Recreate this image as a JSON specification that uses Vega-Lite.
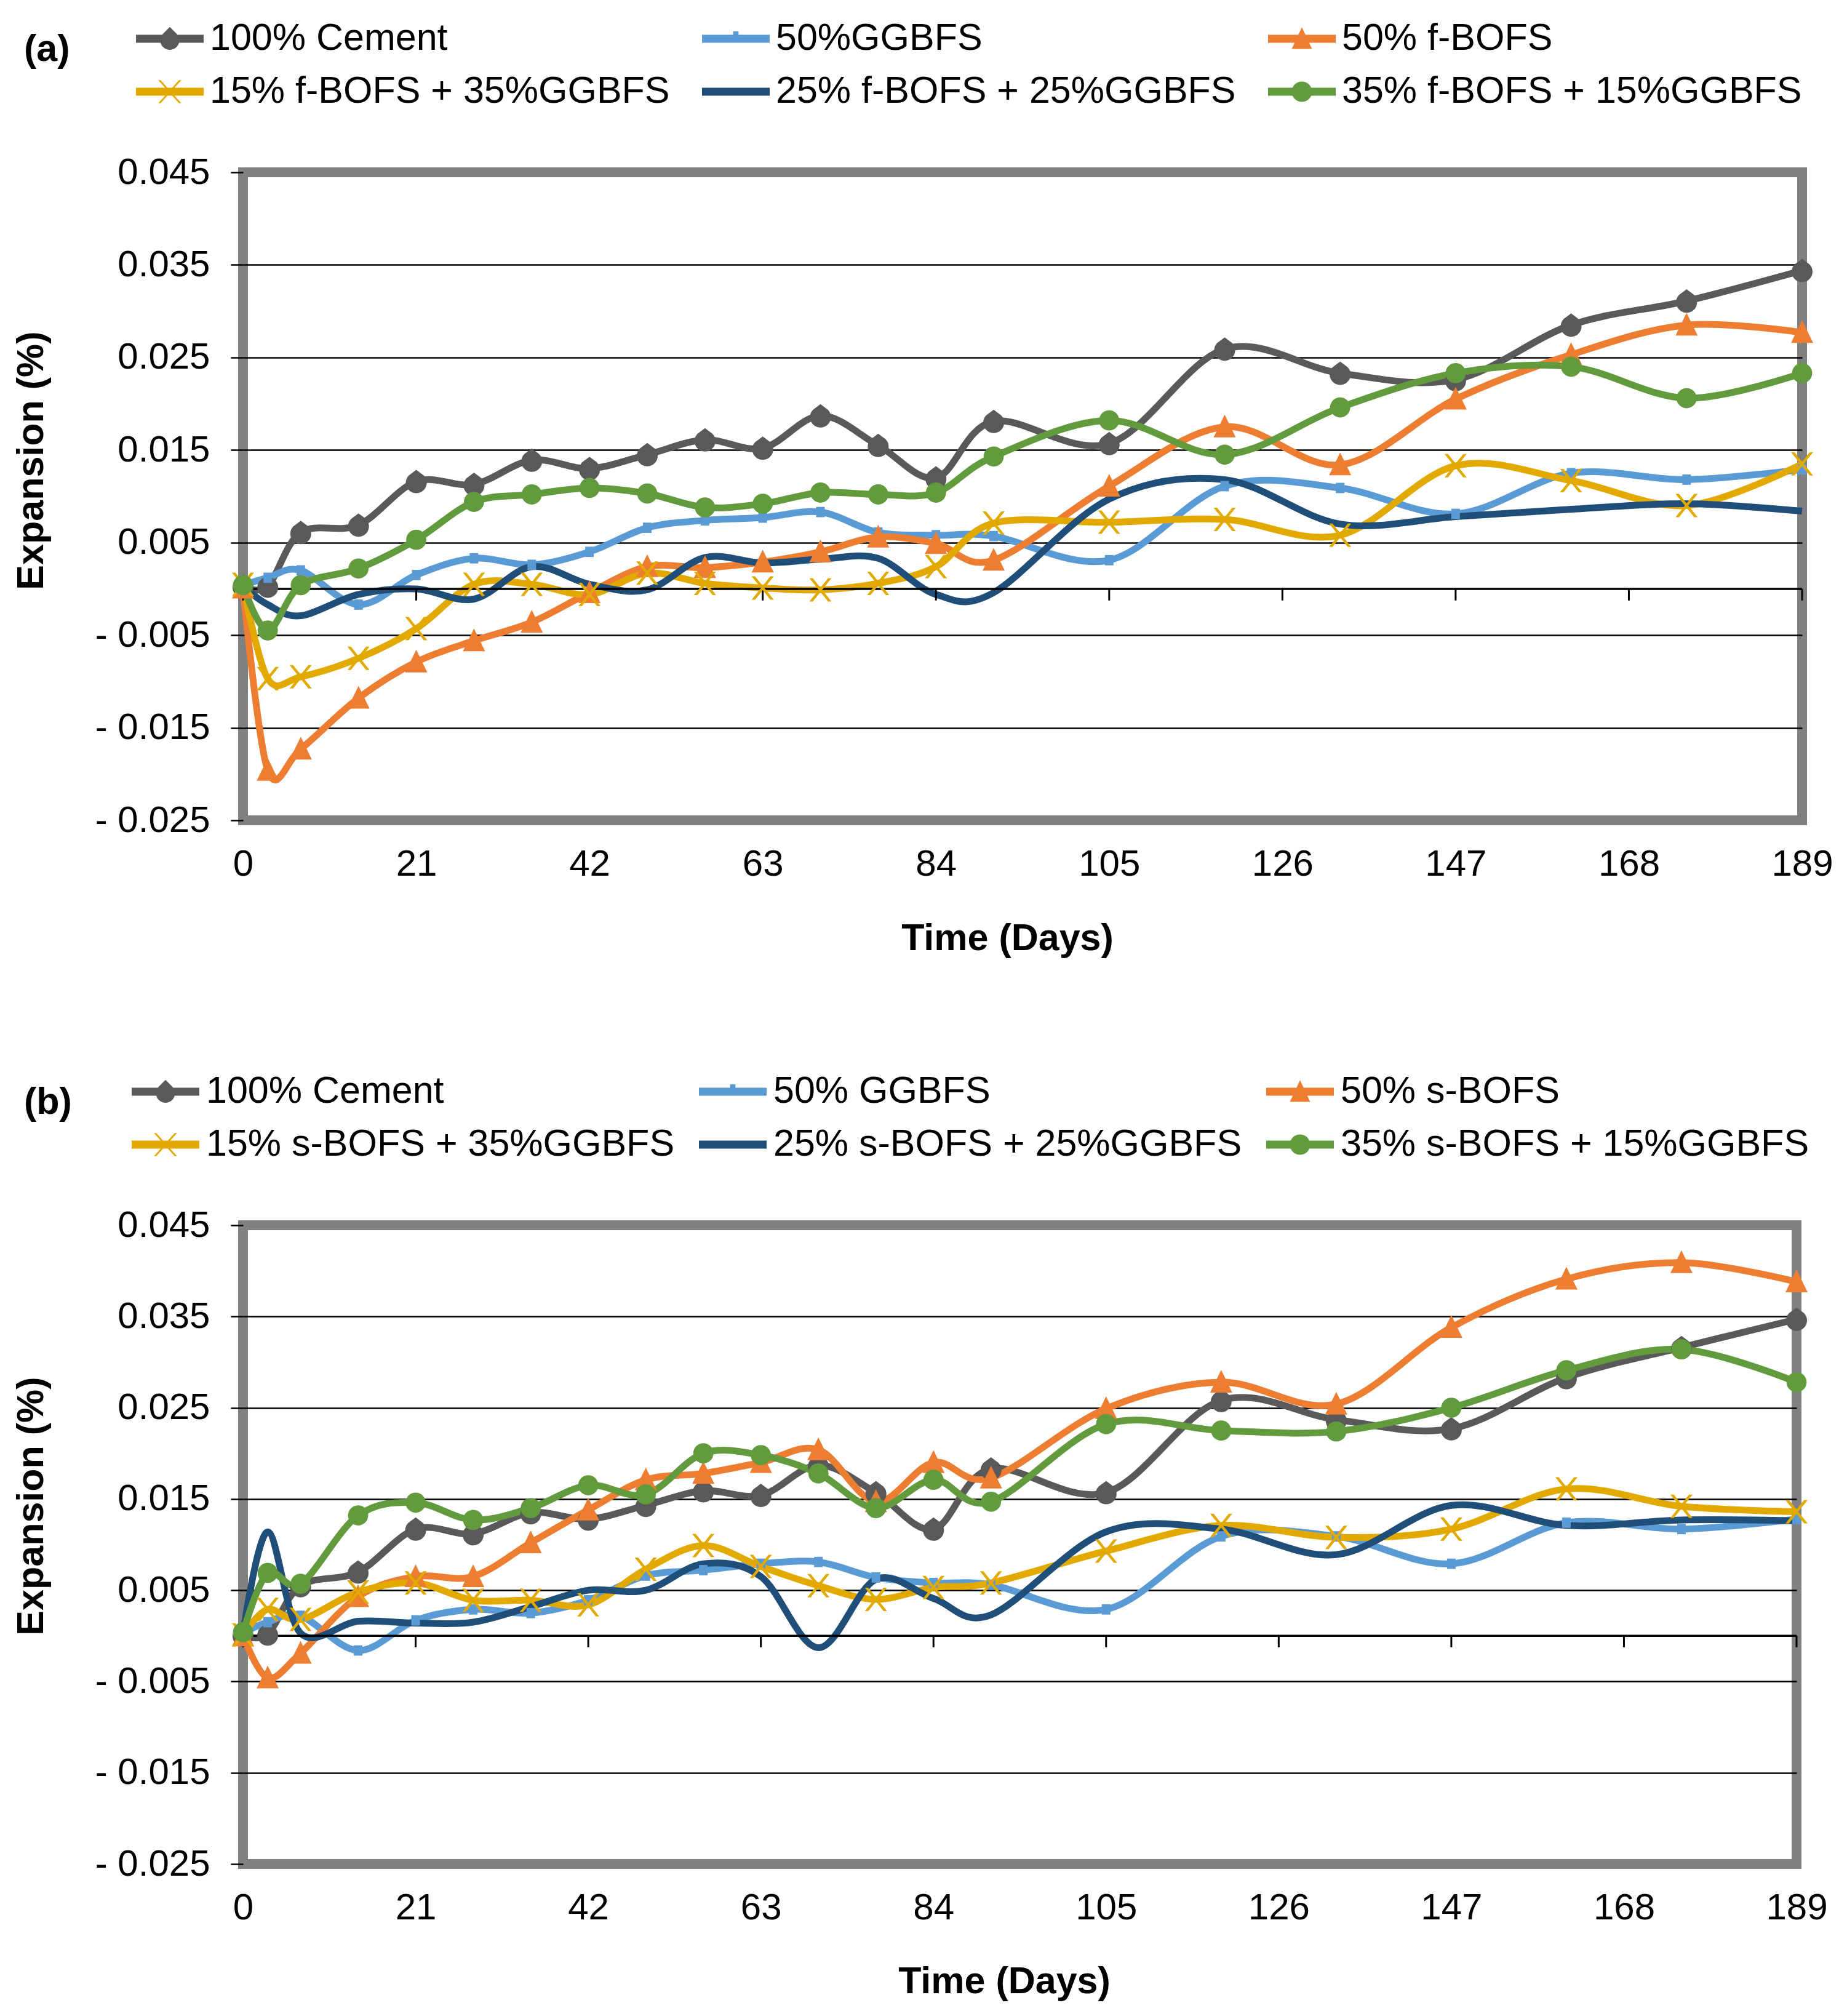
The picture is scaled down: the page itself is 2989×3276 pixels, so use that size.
{
  "$schema": "https://vega.github.io/schema/vega-lite/v6.json",
  "background": "white",
  "padding": {"left": 12, "top": 0, "right": 0, "bottom": 0},
  "config": {
    "font": "Liberation Sans",
    "view": {"stroke": "#808080", "strokeWidth": 16},
    "axis": {"labelFont": "Liberation Sans", "labelFontSize": 60, "labelColor": "black", "labelLimit": 400, "titleFont": "Liberation Sans", "titleFontSize": 61, "titleFontWeight": "bold", "titleColor": "black", "tickColor": "black"},
    "legend": {"labelFont": "Liberation Sans", "titleFont": "Liberation Sans"}
  },
  "datasets": {
    "a": [
      {"d":0,"s":"100% Cement","v":0.0003},{"d":3,"s":"100% Cement","v":0.0003},{"d":7,"s":"100% Cement","v":0.0061},{"d":14,"s":"100% Cement","v":0.0069},{"d":21,"s":"100% Cement","v":0.0116},{"d":28,"s":"100% Cement","v":0.0113},{"d":35,"s":"100% Cement","v":0.0139},{"d":42,"s":"100% Cement","v":0.0130},{"d":49,"s":"100% Cement","v":0.0145},{"d":56,"s":"100% Cement","v":0.0161},{"d":63,"s":"100% Cement","v":0.0152},{"d":70,"s":"100% Cement","v":0.0187},{"d":77,"s":"100% Cement","v":0.0155},{"d":84,"s":"100% Cement","v":0.0120},{"d":91,"s":"100% Cement","v":0.0181},{"d":105,"s":"100% Cement","v":0.0157},{"d":119,"s":"100% Cement","v":0.0259},{"d":133,"s":"100% Cement","v":0.0233},{"d":147,"s":"100% Cement","v":0.0226},{"d":161,"s":"100% Cement","v":0.0285},{"d":175,"s":"100% Cement","v":0.0311},{"d":189,"s":"100% Cement","v":0.0344},
      {"d":0,"s":"50%GGBFS","v":0.0004},{"d":3,"s":"50%GGBFS","v":0.0012},{"d":7,"s":"50%GGBFS","v":0.0020},{"d":14,"s":"50%GGBFS","v":-0.0017},{"d":21,"s":"50%GGBFS","v":0.0015},{"d":28,"s":"50%GGBFS","v":0.0033},{"d":35,"s":"50%GGBFS","v":0.0026},{"d":42,"s":"50%GGBFS","v":0.0040},{"d":49,"s":"50%GGBFS","v":0.0066},{"d":56,"s":"50%GGBFS","v":0.0074},{"d":63,"s":"50%GGBFS","v":0.0077},{"d":70,"s":"50%GGBFS","v":0.0083},{"d":77,"s":"50%GGBFS","v":0.0061},{"d":84,"s":"50%GGBFS","v":0.0058},{"d":91,"s":"50%GGBFS","v":0.0057},{"d":105,"s":"50%GGBFS","v":0.0031},{"d":119,"s":"50%GGBFS","v":0.0111},{"d":133,"s":"50%GGBFS","v":0.0109},{"d":147,"s":"50%GGBFS","v":0.0081},{"d":161,"s":"50%GGBFS","v":0.0125},{"d":175,"s":"50%GGBFS","v":0.0118},{"d":189,"s":"50%GGBFS","v":0.0129},
      {"d":0,"s":"50% f-BOFS","v":0.0001},{"d":3,"s":"50% f-BOFS","v":-0.0196},{"d":7,"s":"50% f-BOFS","v":-0.0173},{"d":14,"s":"50% f-BOFS","v":-0.0118},{"d":21,"s":"50% f-BOFS","v":-0.0079},{"d":28,"s":"50% f-BOFS","v":-0.0056},{"d":35,"s":"50% f-BOFS","v":-0.0036},{"d":42,"s":"50% f-BOFS","v":-0.0004},{"d":49,"s":"50% f-BOFS","v":0.0024},{"d":56,"s":"50% f-BOFS","v":0.0023},{"d":63,"s":"50% f-BOFS","v":0.0029},{"d":70,"s":"50% f-BOFS","v":0.0040},{"d":77,"s":"50% f-BOFS","v":0.0056},{"d":84,"s":"50% f-BOFS","v":0.0049},{"d":91,"s":"50% f-BOFS","v":0.0031},{"d":105,"s":"50% f-BOFS","v":0.0111},{"d":119,"s":"50% f-BOFS","v":0.0175},{"d":133,"s":"50% f-BOFS","v":0.0134},{"d":147,"s":"50% f-BOFS","v":0.0205},{"d":161,"s":"50% f-BOFS","v":0.0253},{"d":175,"s":"50% f-BOFS","v":0.0285},{"d":189,"s":"50% f-BOFS","v":0.0277},
      {"d":0,"s":"15% f-BOFS + 35%GGBFS","v":0.0005},{"d":3,"s":"15% f-BOFS + 35%GGBFS","v":-0.0097},{"d":7,"s":"15% f-BOFS + 35%GGBFS","v":-0.0095},{"d":14,"s":"15% f-BOFS + 35%GGBFS","v":-0.0075},{"d":21,"s":"15% f-BOFS + 35%GGBFS","v":-0.0043},{"d":28,"s":"15% f-BOFS + 35%GGBFS","v":0.0005},{"d":35,"s":"15% f-BOFS + 35%GGBFS","v":0.0005},{"d":42,"s":"15% f-BOFS + 35%GGBFS","v":-0.0006},{"d":49,"s":"15% f-BOFS + 35%GGBFS","v":0.0017},{"d":56,"s":"15% f-BOFS + 35%GGBFS","v":0.0006},{"d":63,"s":"15% f-BOFS + 35%GGBFS","v":0.0001},{"d":70,"s":"15% f-BOFS + 35%GGBFS","v":-0.0001},{"d":77,"s":"15% f-BOFS + 35%GGBFS","v":0.0006},{"d":84,"s":"15% f-BOFS + 35%GGBFS","v":0.0024},{"d":91,"s":"15% f-BOFS + 35%GGBFS","v":0.0071},{"d":105,"s":"15% f-BOFS + 35%GGBFS","v":0.0072},{"d":119,"s":"15% f-BOFS + 35%GGBFS","v":0.0075},{"d":133,"s":"15% f-BOFS + 35%GGBFS","v":0.0058},{"d":147,"s":"15% f-BOFS + 35%GGBFS","v":0.0133},{"d":161,"s":"15% f-BOFS + 35%GGBFS","v":0.0117},{"d":175,"s":"15% f-BOFS + 35%GGBFS","v":0.0090},{"d":189,"s":"15% f-BOFS + 35%GGBFS","v":0.0135},
      {"d":0,"s":"25% f-BOFS + 25%GGBFS","v":0.0003},{"d":3,"s":"25% f-BOFS + 25%GGBFS","v":-0.0017},{"d":7,"s":"25% f-BOFS + 25%GGBFS","v":-0.0029},{"d":14,"s":"25% f-BOFS + 25%GGBFS","v":-0.0006},{"d":21,"s":"25% f-BOFS + 25%GGBFS","v":0.0000},{"d":28,"s":"25% f-BOFS + 25%GGBFS","v":-0.0011},{"d":35,"s":"25% f-BOFS + 25%GGBFS","v":0.0024},{"d":42,"s":"25% f-BOFS + 25%GGBFS","v":0.0005},{"d":49,"s":"25% f-BOFS + 25%GGBFS","v":-0.0001},{"d":56,"s":"25% f-BOFS + 25%GGBFS","v":0.0034},{"d":63,"s":"25% f-BOFS + 25%GGBFS","v":0.0028},{"d":70,"s":"25% f-BOFS + 25%GGBFS","v":0.0032},{"d":77,"s":"25% f-BOFS + 25%GGBFS","v":0.0033},{"d":84,"s":"25% f-BOFS + 25%GGBFS","v":-0.0006},{"d":91,"s":"25% f-BOFS + 25%GGBFS","v":-0.0004},{"d":105,"s":"25% f-BOFS + 25%GGBFS","v":0.0097},{"d":119,"s":"25% f-BOFS + 25%GGBFS","v":0.0118},{"d":133,"s":"25% f-BOFS + 25%GGBFS","v":0.0070},{"d":147,"s":"25% f-BOFS + 25%GGBFS","v":0.0078},{"d":161,"s":"25% f-BOFS + 25%GGBFS","v":0.0086},{"d":175,"s":"25% f-BOFS + 25%GGBFS","v":0.0092},{"d":189,"s":"25% f-BOFS + 25%GGBFS","v":0.0084},
      {"d":0,"s":"35% f-BOFS + 15%GGBFS","v":0.0004},{"d":3,"s":"35% f-BOFS + 15%GGBFS","v":-0.0045},{"d":7,"s":"35% f-BOFS + 15%GGBFS","v":0.0004},{"d":14,"s":"35% f-BOFS + 15%GGBFS","v":0.0022},{"d":21,"s":"35% f-BOFS + 15%GGBFS","v":0.0053},{"d":28,"s":"35% f-BOFS + 15%GGBFS","v":0.0094},{"d":35,"s":"35% f-BOFS + 15%GGBFS","v":0.0102},{"d":42,"s":"35% f-BOFS + 15%GGBFS","v":0.0109},{"d":49,"s":"35% f-BOFS + 15%GGBFS","v":0.0103},{"d":56,"s":"35% f-BOFS + 15%GGBFS","v":0.0088},{"d":63,"s":"35% f-BOFS + 15%GGBFS","v":0.0092},{"d":70,"s":"35% f-BOFS + 15%GGBFS","v":0.0104},{"d":77,"s":"35% f-BOFS + 15%GGBFS","v":0.0102},{"d":84,"s":"35% f-BOFS + 15%GGBFS","v":0.0104},{"d":91,"s":"35% f-BOFS + 15%GGBFS","v":0.0143},{"d":105,"s":"35% f-BOFS + 15%GGBFS","v":0.0182},{"d":119,"s":"35% f-BOFS + 15%GGBFS","v":0.0145},{"d":133,"s":"35% f-BOFS + 15%GGBFS","v":0.0196},{"d":147,"s":"35% f-BOFS + 15%GGBFS","v":0.0233},{"d":161,"s":"35% f-BOFS + 15%GGBFS","v":0.0240},{"d":175,"s":"35% f-BOFS + 15%GGBFS","v":0.0206},{"d":189,"s":"35% f-BOFS + 15%GGBFS","v":0.0233}
    ],
    "b": [
      {"d":0,"s":"100% Cement","v":0.0001},{"d":3,"s":"100% Cement","v":0.0002},{"d":7,"s":"100% Cement","v":0.0055},{"d":14,"s":"100% Cement","v":0.0070},{"d":21,"s":"100% Cement","v":0.0117},{"d":28,"s":"100% Cement","v":0.0112},{"d":35,"s":"100% Cement","v":0.0135},{"d":42,"s":"100% Cement","v":0.0128},{"d":49,"s":"100% Cement","v":0.0143},{"d":56,"s":"100% Cement","v":0.0159},{"d":63,"s":"100% Cement","v":0.0154},{"d":70,"s":"100% Cement","v":0.0187},{"d":77,"s":"100% Cement","v":0.0157},{"d":84,"s":"100% Cement","v":0.0117},{"d":91,"s":"100% Cement","v":0.0183},{"d":105,"s":"100% Cement","v":0.0157},{"d":119,"s":"100% Cement","v":0.0258},{"d":133,"s":"100% Cement","v":0.0237},{"d":147,"s":"100% Cement","v":0.0227},{"d":161,"s":"100% Cement","v":0.0283},{"d":175,"s":"100% Cement","v":0.0316},{"d":189,"s":"100% Cement","v":0.0347},
      {"d":0,"s":"50% GGBFS","v":0.0003},{"d":3,"s":"50% GGBFS","v":0.0015},{"d":7,"s":"50% GGBFS","v":0.0022},{"d":14,"s":"50% GGBFS","v":-0.0016},{"d":21,"s":"50% GGBFS","v":0.0017},{"d":28,"s":"50% GGBFS","v":0.0029},{"d":35,"s":"50% GGBFS","v":0.0025},{"d":42,"s":"50% GGBFS","v":0.0039},{"d":49,"s":"50% GGBFS","v":0.0066},{"d":56,"s":"50% GGBFS","v":0.0072},{"d":63,"s":"50% GGBFS","v":0.0079},{"d":70,"s":"50% GGBFS","v":0.0081},{"d":77,"s":"50% GGBFS","v":0.0064},{"d":84,"s":"50% GGBFS","v":0.0058},{"d":91,"s":"50% GGBFS","v":0.0056},{"d":105,"s":"50% GGBFS","v":0.0029},{"d":119,"s":"50% GGBFS","v":0.0109},{"d":133,"s":"50% GGBFS","v":0.0109},{"d":147,"s":"50% GGBFS","v":0.0079},{"d":161,"s":"50% GGBFS","v":0.0124},{"d":175,"s":"50% GGBFS","v":0.0117},{"d":189,"s":"50% GGBFS","v":0.0128},
      {"d":0,"s":"50% s-BOFS","v":0.0000},{"d":3,"s":"50% s-BOFS","v":-0.0046},{"d":7,"s":"50% s-BOFS","v":-0.0019},{"d":14,"s":"50% s-BOFS","v":0.0043},{"d":21,"s":"50% s-BOFS","v":0.0065},{"d":28,"s":"50% s-BOFS","v":0.0065},{"d":35,"s":"50% s-BOFS","v":0.0102},{"d":42,"s":"50% s-BOFS","v":0.0138},{"d":49,"s":"50% s-BOFS","v":0.0171},{"d":56,"s":"50% s-BOFS","v":0.0178},{"d":63,"s":"50% s-BOFS","v":0.0190},{"d":70,"s":"50% s-BOFS","v":0.0204},{"d":77,"s":"50% s-BOFS","v":0.0147},{"d":84,"s":"50% s-BOFS","v":0.0190},{"d":91,"s":"50% s-BOFS","v":0.0173},{"d":105,"s":"50% s-BOFS","v":0.0249},{"d":119,"s":"50% s-BOFS","v":0.0278},{"d":133,"s":"50% s-BOFS","v":0.0254},{"d":147,"s":"50% s-BOFS","v":0.0338},{"d":161,"s":"50% s-BOFS","v":0.0391},{"d":175,"s":"50% s-BOFS","v":0.0409},{"d":189,"s":"50% s-BOFS","v":0.0388},
      {"d":0,"s":"15% s-BOFS + 35%GGBFS","v":0.0001},{"d":3,"s":"15% s-BOFS + 35%GGBFS","v":0.0029},{"d":7,"s":"15% s-BOFS + 35%GGBFS","v":0.0018},{"d":14,"s":"15% s-BOFS + 35%GGBFS","v":0.0048},{"d":21,"s":"15% s-BOFS + 35%GGBFS","v":0.0058},{"d":28,"s":"15% s-BOFS + 35%GGBFS","v":0.0039},{"d":35,"s":"15% s-BOFS + 35%GGBFS","v":0.0039},{"d":42,"s":"15% s-BOFS + 35%GGBFS","v":0.0034},{"d":49,"s":"15% s-BOFS + 35%GGBFS","v":0.0073},{"d":56,"s":"15% s-BOFS + 35%GGBFS","v":0.0099},{"d":63,"s":"15% s-BOFS + 35%GGBFS","v":0.0076},{"d":70,"s":"15% s-BOFS + 35%GGBFS","v":0.0055},{"d":77,"s":"15% s-BOFS + 35%GGBFS","v":0.0040},{"d":84,"s":"15% s-BOFS + 35%GGBFS","v":0.0053},{"d":91,"s":"15% s-BOFS + 35%GGBFS","v":0.0058},{"d":105,"s":"15% s-BOFS + 35%GGBFS","v":0.0093},{"d":119,"s":"15% s-BOFS + 35%GGBFS","v":0.0121},{"d":133,"s":"15% s-BOFS + 35%GGBFS","v":0.0108},{"d":147,"s":"15% s-BOFS + 35%GGBFS","v":0.0117},{"d":161,"s":"15% s-BOFS + 35%GGBFS","v":0.0161},{"d":175,"s":"15% s-BOFS + 35%GGBFS","v":0.0142},{"d":189,"s":"15% s-BOFS + 35%GGBFS","v":0.0136},
      {"d":0,"s":"25% s-BOFS + 25%GGBFS","v":0.0003},{"d":3,"s":"25% s-BOFS + 25%GGBFS","v":0.0114},{"d":7,"s":"25% s-BOFS + 25%GGBFS","v":0.0003},{"d":14,"s":"25% s-BOFS + 25%GGBFS","v":0.0016},{"d":21,"s":"25% s-BOFS + 25%GGBFS","v":0.0014},{"d":28,"s":"25% s-BOFS + 25%GGBFS","v":0.0015},{"d":35,"s":"25% s-BOFS + 25%GGBFS","v":0.0032},{"d":42,"s":"25% s-BOFS + 25%GGBFS","v":0.0050},{"d":49,"s":"25% s-BOFS + 25%GGBFS","v":0.0050},{"d":56,"s":"25% s-BOFS + 25%GGBFS","v":0.0079},{"d":63,"s":"25% s-BOFS + 25%GGBFS","v":0.0065},{"d":70,"s":"25% s-BOFS + 25%GGBFS","v":-0.0013},{"d":77,"s":"25% s-BOFS + 25%GGBFS","v":0.0062},{"d":84,"s":"25% s-BOFS + 25%GGBFS","v":0.0041},{"d":91,"s":"25% s-BOFS + 25%GGBFS","v":0.0023},{"d":105,"s":"25% s-BOFS + 25%GGBFS","v":0.0114},{"d":119,"s":"25% s-BOFS + 25%GGBFS","v":0.0117},{"d":133,"s":"25% s-BOFS + 25%GGBFS","v":0.0089},{"d":147,"s":"25% s-BOFS + 25%GGBFS","v":0.0143},{"d":161,"s":"25% s-BOFS + 25%GGBFS","v":0.0121},{"d":175,"s":"25% s-BOFS + 25%GGBFS","v":0.0127},{"d":189,"s":"25% s-BOFS + 25%GGBFS","v":0.0126},
      {"d":0,"s":"35% s-BOFS + 15%GGBFS","v":0.0004},{"d":3,"s":"35% s-BOFS + 15%GGBFS","v":0.0069},{"d":7,"s":"35% s-BOFS + 15%GGBFS","v":0.0057},{"d":14,"s":"35% s-BOFS + 15%GGBFS","v":0.0132},{"d":21,"s":"35% s-BOFS + 15%GGBFS","v":0.0146},{"d":28,"s":"35% s-BOFS + 15%GGBFS","v":0.0127},{"d":35,"s":"35% s-BOFS + 15%GGBFS","v":0.0140},{"d":42,"s":"35% s-BOFS + 15%GGBFS","v":0.0165},{"d":49,"s":"35% s-BOFS + 15%GGBFS","v":0.0155},{"d":56,"s":"35% s-BOFS + 15%GGBFS","v":0.0200},{"d":63,"s":"35% s-BOFS + 15%GGBFS","v":0.0198},{"d":70,"s":"35% s-BOFS + 15%GGBFS","v":0.0178},{"d":77,"s":"35% s-BOFS + 15%GGBFS","v":0.0140},{"d":84,"s":"35% s-BOFS + 15%GGBFS","v":0.0171},{"d":91,"s":"35% s-BOFS + 15%GGBFS","v":0.0147},{"d":105,"s":"35% s-BOFS + 15%GGBFS","v":0.0232},{"d":119,"s":"35% s-BOFS + 15%GGBFS","v":0.0225},{"d":133,"s":"35% s-BOFS + 15%GGBFS","v":0.0224},{"d":147,"s":"35% s-BOFS + 15%GGBFS","v":0.0250},{"d":161,"s":"35% s-BOFS + 15%GGBFS","v":0.0291},{"d":175,"s":"35% s-BOFS + 15%GGBFS","v":0.0314},{"d":189,"s":"35% s-BOFS + 15%GGBFS","v":0.0278}
    ],
    "ticks": [{"t":0},{"t":21},{"t":42},{"t":63},{"t":84},{"t":105},{"t":126},{"t":147},{"t":168},{"t":189}]
  },
  "spacing": 148,
  "resolve": {"scale": {"color": "independent", "shape": "independent"}},
  "vconcat": [
    {
      "width": 2534,
      "height": 1053,
      "data": {"name": "a"},
      "resolve": {"scale": {"color": "independent", "shape": "independent"}, "legend": {"color": "independent", "shape": "independent"}},
      "layer": [
        {
          "mark": {"type": "line", "interpolate": "cardinal", "strokeWidth": 11, "strokeJoin": "round"},
          "encoding": {
            "x": {"field": "d", "type": "quantitative", "scale": {"domain": [0, 189], "nice": false, "zero": false},
              "axis": {"values": [0, 21, 42, 63, 84, 105, 126, 147, 168, 189], "domain": false, "ticks": false, "grid": false, "labelPadding": 42, "labelFlush": false, "labelOverlap": false, "title": "Time (Days)", "titlePadding": 61, "titleX": 1242}},
            "y": {"field": "v", "type": "quantitative", "scale": {"domain": [-0.025, 0.045], "nice": false, "zero": false},
              "axis": {"values": [0.045, 0.035, 0.025, 0.015, 0.005, -0.005, -0.015, -0.025], "labelExpr": "datum.value < 0 ? '- ' + format(-datum.value, '.3f') : format(datum.value, '.3f')", "domain": false, "tickSize": 20, "tickWidth": 2.5, "labelPadding": 34, "labelFlush": false, "labelOverlap": false, "grid": true, "gridColor": "black", "gridWidth": 2.5, "gridOpacity": {"condition": {"test": "datum.value > 0.04 || datum.value < -0.02", "value": 0}, "value": 1}, "title": "Expansion (%)", "titleX": -344, "titleY": 468, "titleAngle": 270, "titleAlign": "center", "titleBaseline": "middle"}},
            "color": {"field": "s", "type": "nominal", "legend": null,
              "scale": {"domain": ["100% Cement", "50%GGBFS", "50% f-BOFS", "15% f-BOFS + 35%GGBFS", "25% f-BOFS + 25%GGBFS", "35% f-BOFS + 15%GGBFS"], "range": ["#595959", "#5B9BD5", "#ED7D31", "#E2AA00", "#1F4E79", "#619B3D"]}}
          }
        },
        {
          "data": {"values": [{}]},
          "mark": {"type": "rule", "color": "black", "strokeWidth": 3.5},
          "encoding": {"y": {"datum": 0}}
        },
        {
          "data": {"name": "ticks"},
          "mark": {"type": "rule", "color": "black", "strokeWidth": 3},
          "encoding": {"x": {"field": "t", "type": "quantitative"}, "y": {"datum": 0}, "y2": {"datum": -0.00125}}
        },
        {
          "transform": [{"filter": "datum.s != '25% f-BOFS + 25%GGBFS'"}],
          "mark": {"type": "point", "filled": true, "size": 1600, "strokeWidth": 0, "opacity": 1},
          "encoding": {
            "x": {"field": "d", "type": "quantitative"},
            "y": {"field": "v", "type": "quantitative"},
            "color": {"field": "s", "type": "nominal", "legend": null,
              "scale": {"domain": ["100% Cement", "50%GGBFS", "50% f-BOFS", "15% f-BOFS + 35%GGBFS", "25% f-BOFS + 25%GGBFS", "35% f-BOFS + 15%GGBFS"], "range": ["#595959", "#5B9BD5", "#ED7D31", "#E2AA00", "#1F4E79", "#619B3D"]}},
            "shape": {"field": "s", "type": "nominal", "legend": null,
              "scale": {"domain": ["100% Cement", "50%GGBFS", "50% f-BOFS", "15% f-BOFS + 35%GGBFS", "25% f-BOFS + 25%GGBFS", "35% f-BOFS + 15%GGBFS"],
                "range": ["M0,-0.95L0.6,-0.5A0.85,0.85 0 1,1 -0.6,-0.5Z", "M-0.35,-0.42H0.35V0.42H-0.35Z", "M0,-1L0.9,0.85L-0.9,0.85Z", "M-0.9,-0.95L-0.62,-0.95L0.9,0.95L0.62,0.95ZM0.62,-0.95L0.9,-0.95L-0.62,0.95L-0.9,0.95Z", "M0,0Z", "M-0.82,0A0.82,0.82 0 1,1 0.82,0A0.82,0.82 0 1,1 -0.82,0Z"]}}
          }
        },
        {
          "transform": [{"filter": "false"}],
          "mark": {"type": "point", "filled": true, "strokeWidth": 0, "opacity": 1},
          "encoding": {
            "color": {"field": "s", "type": "nominal",
              "scale": {"domain": ["100% Cement", "50%GGBFS", "50% f-BOFS", "15% f-BOFS + 35%GGBFS", "25% f-BOFS + 25%GGBFS", "35% f-BOFS + 15%GGBFS"], "range": ["#595959", "#5B9BD5", "#ED7D31", "#E2AA00", "#1F4E79", "#619B3D"]},
              "legend": {"title": ["", "(a)"], "orient": "none", "direction": "horizontal", "legendX": -356, "legendY": -272, "columns": 3, "columnPadding": 52, "rowPadding": 1, "padding": 0, "symbolSize": 12100, "symbolStrokeWidth": 0, "symbolOpacity": 1, "labelFontSize": 61, "labelColor": "black", "labelOffset": 10, "labelLimit": 3000, "titleOrient": "left", "titleAnchor": "start", "titleBaseline": "top", "titleLineHeight": 43, "titleFontSize": 61, "titleFontWeight": "bold", "titleColor": "black", "titlePadding": 107}},
            "shape": {"field": "s", "type": "nominal",
              "scale": {"domain": ["100% Cement", "50%GGBFS", "50% f-BOFS", "15% f-BOFS + 35%GGBFS", "25% f-BOFS + 25%GGBFS", "35% f-BOFS + 15%GGBFS"],
                "range": ["M-1,-0.12H1V0.12H-1ZM0,-0.35L0.2,-0.148A0.28,0.28 0 1,1 -0.2,-0.148Z", "M-1,-0.12H1V0.12H-1ZM-0.08,-0.22H0.08V0H-0.08Z", "M-1,-0.12H1V0.12H-1ZM0,-0.34L0.3,0.3L-0.3,0.3Z", "M-1,-0.12H1V0.12H-1ZM-0.34,-0.34L-0.27,-0.34L0.34,0.34L0.27,0.34ZM0.27,-0.34L0.34,-0.34L-0.27,0.34L-0.34,0.34Z", "M-1,-0.12H1V0.12H-1Z", "M-1,-0.12H1V0.12H-1ZM-0.3,0A0.3,0.3 0 1,1 0.3,0A0.3,0.3 0 1,1 -0.3,0Z"]},
              "legend": {"title": ["", "(a)"], "orient": "none", "direction": "horizontal", "legendX": -356, "legendY": -272, "columns": 3, "columnPadding": 52, "rowPadding": 1, "padding": 0, "symbolSize": 12100, "symbolStrokeWidth": 0, "symbolOpacity": 1, "labelFontSize": 61, "labelColor": "black", "labelOffset": 10, "labelLimit": 3000, "titleOrient": "left", "titleAnchor": "start", "titleBaseline": "top", "titleLineHeight": 43, "titleFontSize": 61, "titleFontWeight": "bold", "titleColor": "black", "titlePadding": 107}}
          }
        }
      ]
    },
    {
      "width": 2525,
      "height": 1038,
      "data": {"name": "b"},
      "resolve": {"scale": {"color": "independent", "shape": "independent"}, "legend": {"color": "independent", "shape": "independent"}},
      "layer": [
        {
          "mark": {"type": "line", "interpolate": "cardinal", "strokeWidth": 11, "strokeJoin": "round"},
          "encoding": {
            "x": {"field": "d", "type": "quantitative", "scale": {"domain": [0, 189], "nice": false, "zero": false},
              "axis": {"values": [0, 21, 42, 63, 84, 105, 126, 147, 168, 189], "domain": false, "ticks": false, "grid": false, "labelPadding": 42, "labelFlush": false, "labelOverlap": false, "title": "Time (Days)", "titlePadding": 60, "titleX": 1237}},
            "y": {"field": "v", "type": "quantitative", "scale": {"domain": [-0.025, 0.045], "nice": false, "zero": false},
              "axis": {"values": [0.045, 0.035, 0.025, 0.015, 0.005, -0.005, -0.015, -0.025], "labelExpr": "datum.value < 0 ? '- ' + format(-datum.value, '.3f') : format(datum.value, '.3f')", "domain": false, "tickSize": 20, "tickWidth": 2.5, "labelPadding": 34, "labelFlush": false, "labelOverlap": false, "grid": true, "gridColor": "black", "gridWidth": 2.5, "gridOpacity": {"condition": {"test": "datum.value > 0.04 || datum.value < -0.02", "value": 0}, "value": 1}, "title": "Expansion (%)", "titleX": -344, "titleY": 456, "titleAngle": 270, "titleAlign": "center", "titleBaseline": "middle"}},
            "color": {"field": "s", "type": "nominal", "legend": null,
              "scale": {"domain": ["100% Cement", "50% GGBFS", "50% s-BOFS", "15% s-BOFS + 35%GGBFS", "25% s-BOFS + 25%GGBFS", "35% s-BOFS + 15%GGBFS"], "range": ["#595959", "#5B9BD5", "#ED7D31", "#E2AA00", "#1F4E79", "#619B3D"]}}
          }
        },
        {
          "data": {"values": [{}]},
          "mark": {"type": "rule", "color": "black", "strokeWidth": 3.5},
          "encoding": {"y": {"datum": 0}}
        },
        {
          "data": {"name": "ticks"},
          "mark": {"type": "rule", "color": "black", "strokeWidth": 3},
          "encoding": {"x": {"field": "t", "type": "quantitative"}, "y": {"datum": 0}, "y2": {"datum": -0.00125}}
        },
        {
          "transform": [{"filter": "datum.s != '25% s-BOFS + 25%GGBFS'"}],
          "mark": {"type": "point", "filled": true, "size": 1600, "strokeWidth": 0, "opacity": 1},
          "encoding": {
            "x": {"field": "d", "type": "quantitative"},
            "y": {"field": "v", "type": "quantitative"},
            "color": {"field": "s", "type": "nominal", "legend": null,
              "scale": {"domain": ["100% Cement", "50% GGBFS", "50% s-BOFS", "15% s-BOFS + 35%GGBFS", "25% s-BOFS + 25%GGBFS", "35% s-BOFS + 15%GGBFS"], "range": ["#595959", "#5B9BD5", "#ED7D31", "#E2AA00", "#1F4E79", "#619B3D"]}},
            "shape": {"field": "s", "type": "nominal", "legend": null,
              "scale": {"domain": ["100% Cement", "50% GGBFS", "50% s-BOFS", "15% s-BOFS + 35%GGBFS", "25% s-BOFS + 25%GGBFS", "35% s-BOFS + 15%GGBFS"],
                "range": ["M0,-0.95L0.6,-0.5A0.85,0.85 0 1,1 -0.6,-0.5Z", "M-0.35,-0.42H0.35V0.42H-0.35Z", "M0,-1L0.9,0.85L-0.9,0.85Z", "M-0.9,-0.95L-0.62,-0.95L0.9,0.95L0.62,0.95ZM0.62,-0.95L0.9,-0.95L-0.62,0.95L-0.9,0.95Z", "M0,0Z", "M-0.82,0A0.82,0.82 0 1,1 0.82,0A0.82,0.82 0 1,1 -0.82,0Z"]}}
          }
        },
        {
          "transform": [{"filter": "false"}],
          "mark": {"type": "point", "filled": true, "strokeWidth": 0, "opacity": 1},
          "encoding": {
            "color": {"field": "s", "type": "nominal",
              "scale": {"domain": ["100% Cement", "50% GGBFS", "50% s-BOFS", "15% s-BOFS + 35%GGBFS", "25% s-BOFS + 25%GGBFS", "35% s-BOFS + 15%GGBFS"], "range": ["#595959", "#5B9BD5", "#ED7D31", "#E2AA00", "#1F4E79", "#619B3D"]},
              "legend": {"title": ["", "(b)"], "orient": "none", "direction": "horizontal", "legendX": -356, "legendY": -272, "columns": 3, "columnPadding": 39, "rowPadding": 1, "padding": 0, "symbolSize": 12100, "symbolStrokeWidth": 0, "symbolOpacity": 1, "labelFontSize": 61, "labelColor": "black", "labelOffset": 11, "labelLimit": 3000, "titleOrient": "left", "titleAnchor": "start", "titleBaseline": "top", "titleLineHeight": 43, "titleFontSize": 61, "titleFontWeight": "bold", "titleColor": "black", "titlePadding": 97}},
            "shape": {"field": "s", "type": "nominal",
              "scale": {"domain": ["100% Cement", "50% GGBFS", "50% s-BOFS", "15% s-BOFS + 35%GGBFS", "25% s-BOFS + 25%GGBFS", "35% s-BOFS + 15%GGBFS"],
                "range": ["M-1,-0.12H1V0.12H-1ZM0,-0.35L0.2,-0.148A0.28,0.28 0 1,1 -0.2,-0.148Z", "M-1,-0.12H1V0.12H-1ZM-0.08,-0.22H0.08V0H-0.08Z", "M-1,-0.12H1V0.12H-1ZM0,-0.34L0.3,0.3L-0.3,0.3Z", "M-1,-0.12H1V0.12H-1ZM-0.34,-0.34L-0.27,-0.34L0.34,0.34L0.27,0.34ZM0.27,-0.34L0.34,-0.34L-0.27,0.34L-0.34,0.34Z", "M-1,-0.12H1V0.12H-1Z", "M-1,-0.12H1V0.12H-1ZM-0.3,0A0.3,0.3 0 1,1 0.3,0A0.3,0.3 0 1,1 -0.3,0Z"]},
              "legend": {"title": ["", "(b)"], "orient": "none", "direction": "horizontal", "legendX": -356, "legendY": -272, "columns": 3, "columnPadding": 39, "rowPadding": 1, "padding": 0, "symbolSize": 12100, "symbolStrokeWidth": 0, "symbolOpacity": 1, "labelFontSize": 61, "labelColor": "black", "labelOffset": 11, "labelLimit": 3000, "titleOrient": "left", "titleAnchor": "start", "titleBaseline": "top", "titleLineHeight": 43, "titleFontSize": 61, "titleFontWeight": "bold", "titleColor": "black", "titlePadding": 97}}
          }
        }
      ]
    }
  ]
}
